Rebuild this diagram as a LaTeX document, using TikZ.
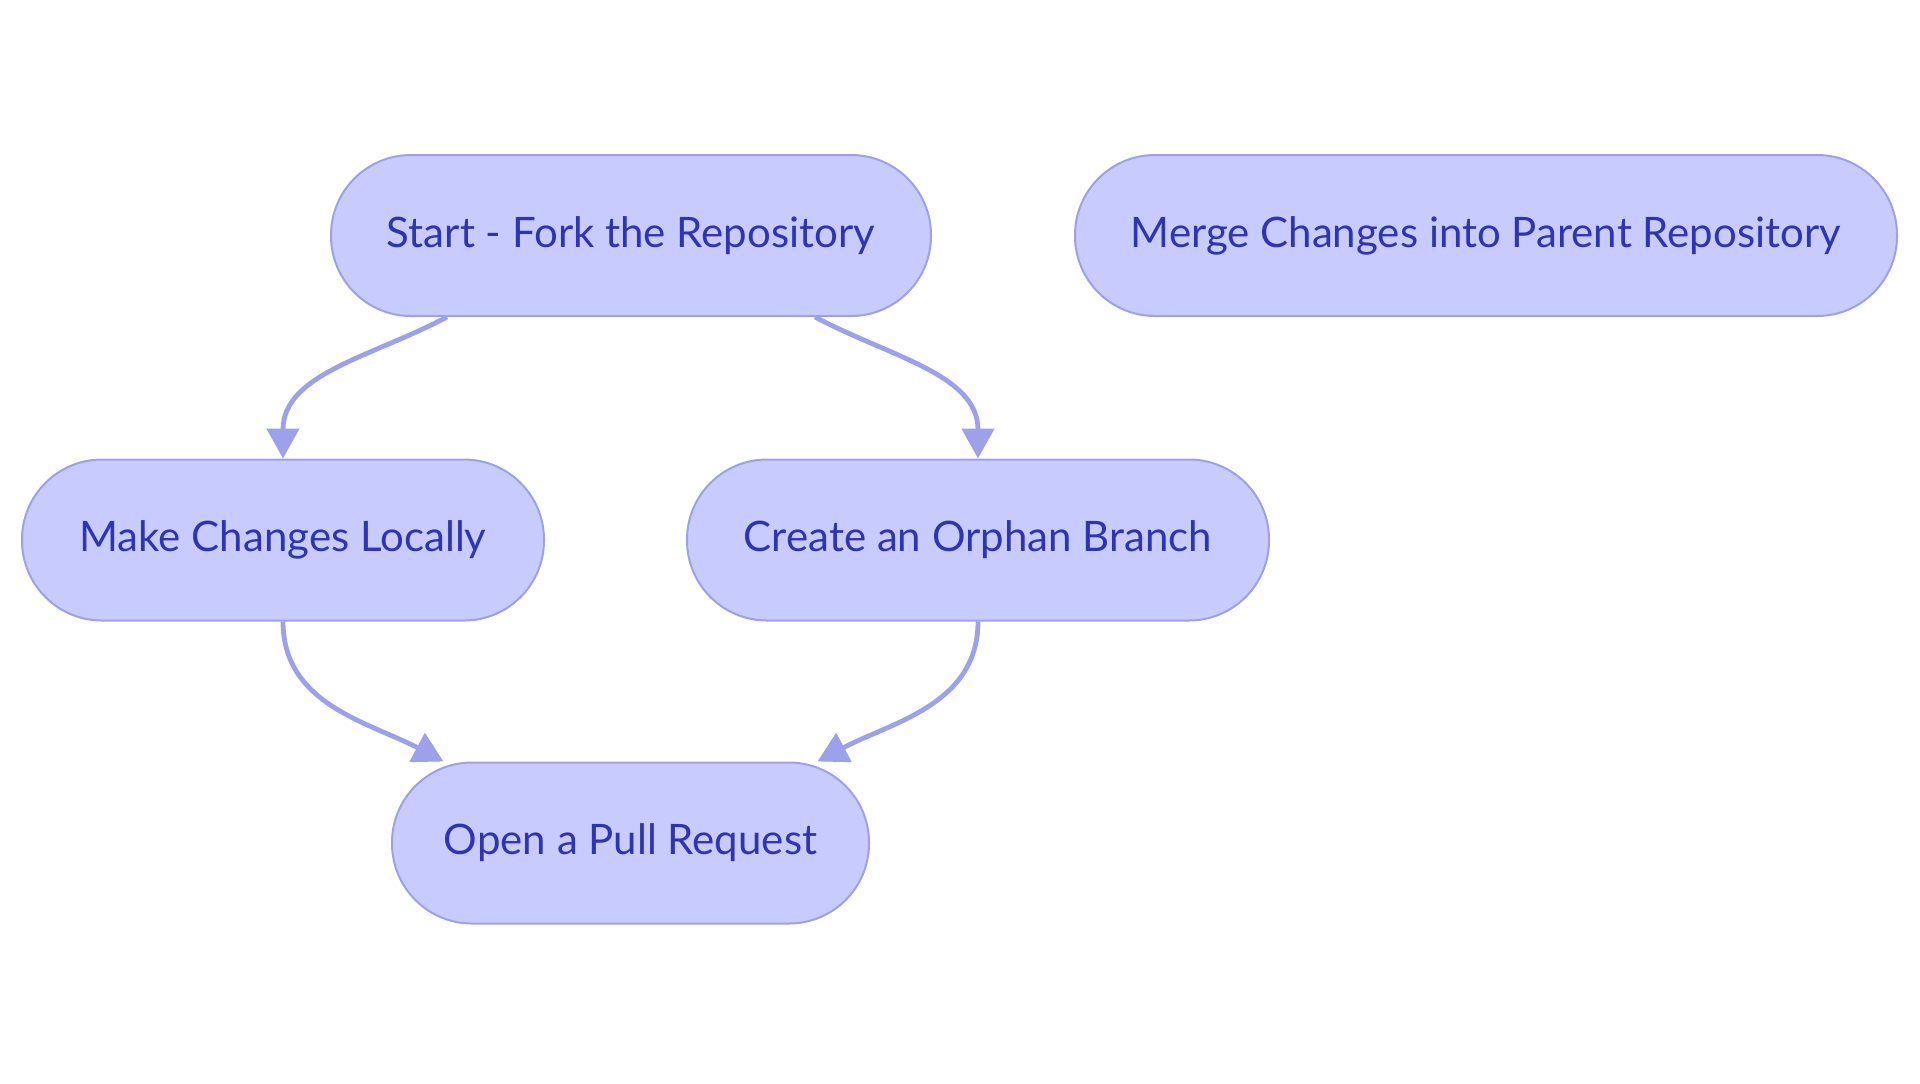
\documentclass[tikz,border=0pt]{standalone}
\usepackage{fontspec}
\setmainfont{Lato}
\usetikzlibrary{positioning,arrows.meta}

\definecolor{boxfill}{HTML}{C8CBFD}
\definecolor{boxline}{HTML}{9DA1EC}
\definecolor{boxtext}{HTML}{2F34B5}

\begin{document}
\begin{tikzpicture}[
      x=0.5pt, y=-0.5pt,
      every node/.style = {draw=boxline, line width=1pt, fill=boxfill, text=boxtext,
                           rounded corners=40pt, minimum height=80.5pt, align=center,
                           font=\fontsize{21}{25}\selectfont},
      every path/.style = {draw=boxline, line width=2.4pt, -{Triangle[length=15pt,width=16pt]}}
    ]
    \useasboundingbox[draw=none, fill=white, -] (0,0) rectangle (1920,1083);

    \node (start)   [minimum width=300pt]   at (631,235.5)  {Start - Fork the Repository};
    \node (merge)   [minimum width=411pt]   at (1486,235.5) {Merge Changes into Parent Repository};
    \node (local)   [minimum width=261pt]   at (283,540)    {Make Changes Locally};
    \node (orphan)  [minimum width=291pt]   at (978,540)    {Create an Orphan Branch};
    \node (pullreq) [minimum width=238.5pt] at (630.5,843)  {Open a Pull Request};

    \draw ([xshift=-92pt]start.south) to[out=208, in=90]  (local.north);
    \draw ([xshift=92pt]start.south)  to[out=-28, in=90]  (orphan.north);
    \draw (local.south)  to[out=-90, in=152] ([xshift=-93.5pt]pullreq.north);
    \draw (orphan.south) to[out=-90, in=28]  ([xshift=93.5pt]pullreq.north);

  \end{tikzpicture}
\end{document}
